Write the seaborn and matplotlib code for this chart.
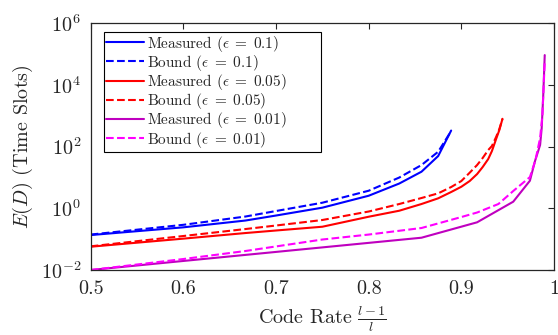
import numpy as np
import pandas as pd
import seaborn as sns
import matplotlib
matplotlib.use("Agg")
import matplotlib.pyplot as plt

# ---------------- data ----------------
x_e10 = [0.5, 0.6, 0.667, 0.7, 0.75, 0.8, 0.833, 0.857, 0.875, 0.889]
meas_e10 = [0.136, 0.242, 0.402, 0.584, 1.05, 2.56, 6.37, 15.4, 49.6, 333]
bound_e10 = [0.141, 0.292, 0.542, 0.818, 1.52, 3.72, 9.96, 25.3, 68.4, 320]

x_e05 = [0.5, 0.6, 0.667, 0.7, 0.75, 0.8, 0.833, 0.857, 0.875, 0.889,
         0.9, 0.909, 0.917, 0.923, 0.929, 0.933, 0.9375, 0.941, 0.9444]
meas_e05 = [0.0569, 0.104, 0.158, 0.191, 0.253, 0.534, 0.836, 1.38, 2.11, 3.38,
            5.01, 7.67, 12.9, 21.8, 39.6, 72.0, 176, 345, 800]
bound_e05 = [0.0586, 0.1265, 0.213, 0.277, 0.418, 0.788, 1.38, 2.16, 3.06, 4.90,
             7.67, 14.3, 25.3, 42.7, 77.6, 105, 205, 372, 800]

x_meas_e01 = [0.5, 0.857, 0.917, 0.956, 0.974, 0.9795, 0.985, 0.9867, 0.9884, 0.990]
meas_e01 = [0.01, 0.1114, 0.352, 1.64, 7.85, 34.1, 113, 392, 4710, 93100]
x_bound_e01 = [0.5, 0.6, 0.667, 0.75, 0.8, 0.857, 0.9, 0.917, 0.94, 0.956,
               0.965, 0.974, 0.98, 0.985, 0.9875, 0.990]
bound_e01 = [0.01, 0.0227, 0.0413, 0.0974, 0.141, 0.23, 0.522, 0.731, 1.38, 3.64,
             6.13, 10.3, 36.8, 190, 1060, 60000]

x_ticks = [0.5, 0.6, 0.7, 0.8, 0.9, 1.0]
x_tick_labels = ["0.5", "0.6", "0.7", "0.8", "0.9", "1"]
y_ticks = [1e-2, 1e0, 1e2, 1e4, 1e6]

series = [
    ("Measured ($\\epsilon\\;=\\;0.1$)", x_e10, meas_e10, "#0000ff", "-"),
    ("Bound ($\\epsilon\\;=\\;0.1$)", x_e10, bound_e10, "#0000ff", "--"),
    ("Measured ($\\epsilon\\;=\\;0.05$)", x_e05, meas_e05, "#ff0000", "-"),
    ("Bound ($\\epsilon\\;=\\;0.05$)", x_e05, bound_e05, "#ff0000", "--"),
    ("Measured ($\\epsilon\\;=\\;0.01$)", x_meas_e01, meas_e01, "#bf00bf", "-"),
    ("Bound ($\\epsilon\\;=\\;0.01$)", x_bound_e01, bound_e01, "#ff00ff", "--"),
]

# ---------------- style ----------------
sns.set_style("white")
plt.rcParams["font.family"] = ["cmr10", "DejaVu Serif"]
plt.rcParams["mathtext.fontset"] = "cm"
plt.rcParams["axes.formatter.use_mathtext"] = True
plt.rcParams["axes.unicode_minus"] = False

fig = plt.figure(figsize=(5.58, 3.35), dpi=100)
ax = fig.add_axes([90.7 / 558, 1 - 270 / 335, (554 - 90.7) / 558, (270 - 23.3) / 335])

for label, xs, ys, col, ls in series:
    df = pd.DataFrame({"x": xs, "y": ys})
    sns.lineplot(data=df, x="x", y="y", ax=ax, color=col, linestyle=ls,
                 linewidth=1.5, label=label, sort=False, estimator=None)

ax.set_yscale("log")
ax.set_xlim(0.5, 1.0)
ax.set_ylim(1e-2, 1e6)
ax.set_xticks(x_ticks)
ax.set_xticklabels(x_tick_labels)
ax.set_yticks(y_ticks)
ax.yaxis.set_minor_locator(matplotlib.ticker.NullLocator())
ax.tick_params(axis="both", which="both", direction="in", top=True, right=True,
               labelsize=14.5, length=4, width=0.8, color="#262626", pad=7)
for sp in ax.spines.values():
    sp.set_color("#262626")
    sp.set_linewidth(0.9)

ax.set_xlabel("Code Rate $\\frac{l-1}{l}$", fontsize=14.5, labelpad=5)
ax.set_ylabel("$E(D)$ (Time Slots)", fontsize=14.5, labelpad=4)

leg = ax.legend(loc="upper left", bbox_to_anchor=(0.028, 0.3, 0.47, 0.666),
                mode="expand", borderaxespad=0,
                fontsize=11, handlelength=2.5, handletextpad=0.2,
                labelspacing=-0.05, borderpad=0.12, frameon=True, fancybox=False,
                framealpha=1, edgecolor="black")
leg.get_frame().set_linewidth(0.8)

fig.savefig("out.png", dpi=100)
